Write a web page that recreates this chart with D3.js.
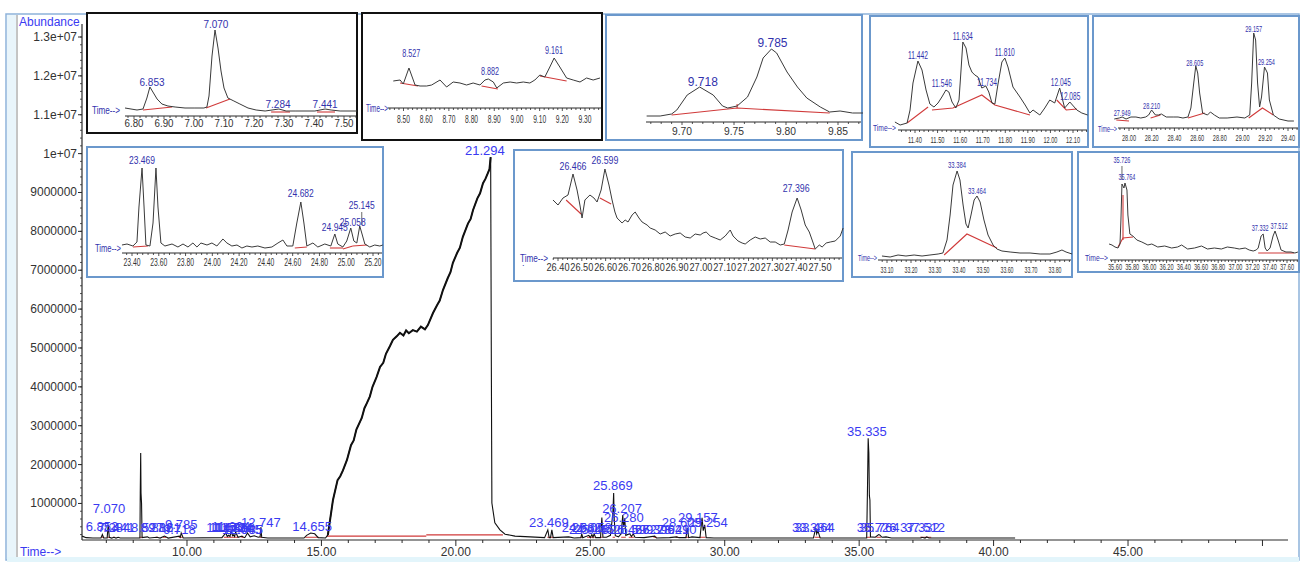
<!DOCTYPE html>
<html><head><meta charset="utf-8">
<script src="https://cdn.jsdelivr.net/npm/d3@7"></script>
<style>body{margin:0;background:#fff}svg{display:block}text{font-family:"Liberation Sans",Arial,sans-serif}</style>
</head><body><svg id="c" width="1304" height="562"></svg>
<script>
// ---------------- DATA ----------------
const mainXTicks = [10,15,20,25,30,35,40,45];
const mainYTicks = [1e6,2e6,3e6,4e6,5e6,6e6,7e6,8e6,9e6,1e7,1.1e7,1.2e7,1.3e7];
const mainYTickLabels = ["1000000","2000000","3000000","4000000","5000000","6000000","7000000","8000000","9000000","1e+07","1.1e+07","1.2e+07","1.3e+07"];
const mainTrace = [
[6.10,0.16e6],[6.25,0.12e6],[6.5,0.11e6],[6.80,0.11e6],[6.853,0.2e6],[6.90,0.11e6],[7.03,0.11e6],[7.070,0.45e6],[7.11,0.13e6],[7.20,0.11e6],[7.284,0.13e6],[7.36,0.11e6],[7.441,0.13e6],[7.52,0.11e6],[8.0,0.11e6],[8.25,0.11e6],[8.262,1.27e6],[8.278,2.3e6],[8.29,1.27e6],[8.31,1.0e6],[8.33,0.12e6],[8.527,0.14e6],[8.6,0.11e6],[8.882,0.13e6],[9.0,0.11e6],[9.161,0.16e6],[9.3,0.11e6],[9.718,0.16e6],[9.75,0.13e6],[9.785,0.24e6],[9.86,0.11e6],[11.3,0.12e6],[11.442,0.24e6],[11.5,0.15e6],[11.546,0.18e6],[11.6,0.15e6],[11.634,0.28e6],[11.7,0.17e6],[11.734,0.19e6],[11.77,0.15e6],[11.810,0.26e6],[11.9,0.13e6],[12.045,0.16e6],[12.085,0.14e6],[12.15,0.12e6],[12.25,0.24e6],[12.35,0.14e6],[12.5,0.17e6],[12.65,0.13e6],[12.72,0.14e6],[12.747,0.39e6],[12.78,0.13e6],[13.0,0.11e6],[14.35,0.11e6],[14.45,0.18e6],[14.6,0.24e6],[14.75,0.22e6],[14.88,0.12e6],[15.15,0.11e6],
[15.24,0.19e6],[15.43,1.09e6],[15.6,1.6e6],[15.7,1.7e6],[15.8,1.85e6],[15.95,2.12e6],[16.1,2.5e6],[16.2,2.62e6],[16.3,2.9e6],[16.5,3.2e6],[16.6,3.45e6],[16.69,3.58e6],[16.8,3.75e6],[16.9,4.0e6],[17.05,4.25e6],[17.18,4.51e6],[17.3,4.62e6],[17.4,4.85e6],[17.55,5.05e6],[17.66,5.21e6],[17.8,5.3e6],[17.92,5.39e6],[18.05,5.32e6],[18.15,5.45e6],[18.25,5.38e6],[18.4,5.46e6],[18.55,5.42e6],[18.7,5.55e6],[18.85,5.48e6],[18.96,5.59e6],[19.15,5.9e6],[19.3,6.1e6],[19.4,6.22e6],[19.52,6.49e6],[19.7,6.8e6],[19.8,6.95e6],[19.89,7.19e6],[20.05,7.45e6],[20.15,7.58e6],[20.26,7.86e6],[20.45,8.2e6],[20.55,8.32e6],[20.64,8.55e6],[20.8,8.85e6],[20.9,8.98e6],[21.01,9.24e6],[21.1,9.35e6],[21.19,9.5e6],[21.25,9.6e6],[21.294,9.91e6],
[21.32,4.5e6],[21.34,1.01e6],[21.45,0.5e6],[21.64,0.32e6],[21.83,0.21e6],[22.2,0.16e6],[22.76,0.14e6],[23.3,0.12e6],[23.42,0.32e6],[23.47,0.12e6],[23.52,0.12e6],[23.57,0.32e6],[23.62,0.12e6],[24.2,0.14e6],[24.4,0.11e6],[24.65,0.12e6],[24.682,0.22e6],[24.72,0.12e6],[24.945,0.18e6],[25.0,0.12e6],[25.058,0.2e6],[25.1,0.13e6],[25.145,0.22e6],[25.2,0.12e6],[25.38,0.12e6],[25.43,0.64e6],[25.47,0.13e6],[25.6,0.13e6],[25.75,0.18e6],[25.84,0.75e6],[25.869,1.27e6],[25.89,0.6e6],[25.93,0.17e6],[26.05,0.14e6],[26.15,0.22e6],[26.207,0.7e6],[26.24,0.4e6],[26.28,0.62e6],[26.32,0.18e6],[26.466,0.22e6],[26.53,0.15e6],[26.599,0.22e6],[26.66,0.13e6],[27.0,0.12e6],[27.396,0.16e6],[27.46,0.11e6],[27.949,0.12e6],[28.21,0.14e6],[28.3,0.12e6],[28.56,0.12e6],[28.605,0.37e6],[28.66,0.12e6],[28.78,0.14e6],[29.08,0.12e6],[29.157,0.63e6],[29.2,0.3e6],[29.254,0.45e6],[29.31,0.12e6],[29.6,0.11e6],[33.3,0.11e6],[33.384,0.37e6],[33.42,0.22e6],[33.464,0.3e6],[33.55,0.11e6],[35.28,0.11e6],[35.31,1.4e6],[35.335,2.68e6],[35.36,2.3e6],[35.38,1.2e6],[35.40,1.09e6],[35.42,0.14e6],[35.6,0.13e6],[35.726,0.2e6],[35.764,0.19e6],[35.85,0.13e6],[36.0,0.14e6],[36.2,0.11e6],[37.3,0.11e6],[37.332,0.13e6],[37.45,0.11e6],[37.512,0.14e6],[37.6,0.11e6],[40.8,0.11e6]
];
const mainHumpRange = [15.2, 21.3];
const mainBaselines = [[[15.2,0.16e6],[18.9,0.16e6]],[[18.9,0.19e6],[21.75,0.19e6]]];
const mainPeakBases = [[6.82,6.92],[7.03,7.12],[7.25,7.32],[8.24,8.34],[8.84,8.92],[9.10,9.22],[9.69,9.84],[11.37,11.6],[11.6,11.91],[12.02,12.12],[12.70,12.79],[14.40,14.90],[23.40,23.62],[24.64,24.72],[24.88,25.16],[25.40,25.46],[25.83,25.92],[26.15,26.32],[26.43,26.62],[27.35,27.48],[28.18,28.27],[28.52,28.67],[29.05,29.28],[33.34,33.56],[35.29,35.42],[35.64,35.81],[37.27,37.68]];
const mainPeakBaseLevel = 0.13e6;
const mainLabels = [
[6.84,0.42e6,"6.853"],[7.10,0.86e6,"7.070"],[7.284,0.37e6,"7.284"],[7.441,0.37e6,"7.441"],[8.527,0.37e6,"8.527"],[8.882,0.37e6,"8.882"],[9.161,0.37e6,"9.161"],[9.718,0.34e6,"9.718"],[9.785,0.47e6,"9.785"],
[11.442,0.37e6,"11.442"],[11.546,0.37e6,"11.546"],[11.634,0.42e6,"11.634"],[11.734,0.37e6,"11.734"],[11.810,0.37e6,"11.810"],[12.045,0.34e6,"12.045"],[12.085,0.34e6,"12.085"],[12.747,0.52e6,"12.747"],[14.655,0.42e6,"14.655"],
[21.08,10.09e6,"21.294"],[23.46,0.50e6,"23.469"],[24.682,0.37e6,"24.682"],[24.945,0.34e6,"24.945"],[25.058,0.37e6,"25.058"],[25.145,0.34e6,"25.145"],[25.84,1.45e6,"25.869"],[26.18,0.86e6,"26.207"],[26.25,0.65e6,"26.280"],
[26.466,0.34e6,"26.466"],[26.599,0.34e6,"26.599"],[27.396,0.34e6,"27.396"],[27.949,0.34e6,"27.949"],[28.210,0.34e6,"28.210"],[28.40,0.50e6,"28.605"],[29.0,0.65e6,"29.157"],[29.37,0.50e6,"29.254"],
[33.24,0.39e6,"33.384"],[33.35,0.39e6,"33.464"],[35.29,2.84e6,"35.335"],[35.65,0.37e6,"35.726"],[35.76,0.37e6,"35.764"],[37.26,0.37e6,"37.332"],[37.45,0.37e6,"37.512"]
];

// inset 1
const ins1Ticks = [6.8,6.9,7.0,7.1,7.2,7.3,7.4,7.5];
const ins1Trace = [[6.770,8],[6.790,7],[6.810,6],[6.830,7],[6.843,18],[6.853,29],[6.863,24],[6.877,17],[6.893,12],[6.913,10],[6.937,9],[6.970,8],[7.003,8],[7.033,8],[7.043,9],[7.050,20],[7.060,60],[7.070,86],[7.080,68],[7.090,45],[7.100,28],[7.113,18],[7.133,15],[7.153,12],[7.180,8],[7.207,6],[7.237,5],[7.260,6],[7.283,7],[7.307,5],[7.337,5],[7.370,5],[7.403,5],[7.420,6],[7.437,7],[7.457,6],[7.487,5],[7.520,5],[7.543,5]];
const ins1Base = [[[6.830,6],[6.927,9]],[[7.040,8],[7.120,17]],[[7.257,4],[7.320,4]],[[7.410,4],[7.470,4]]];
const ins1Labels = [[6.860,34,"6.853"],[7.073,92,"7.070"],[7.280,12,"7.284"],[7.437,12,"7.441"]];
// inset 2
const ins2Ticks = [8.5,8.6,8.7,8.8,8.9,9.0,9.1,9.2,9.3];
const ins2Trace = [[8.455,27],[8.485,28],[8.499,24],[8.524,40],[8.551,23],[8.573,22],[8.602,22],[8.624,23],[8.661,28],[8.690,21],[8.719,26],[8.749,25],[8.778,23],[8.807,25],[8.837,23],[8.859,28],[8.874,29],[8.896,26],[8.911,20],[8.940,25],[8.970,26],[8.999,25],[9.028,26],[9.057,25],[9.079,28],[9.101,33],[9.123,31],[9.145,41],[9.164,50],[9.189,41],[9.219,30],[9.248,28],[9.278,26],[9.307,30],[9.336,28],[9.366,30]];
const ins2Base = [[[8.485,25],[8.564,22]],[[8.844,22],[8.916,19]],[[9.101,32],[9.219,27]]];
const ins2Labels = [[8.534,55,"8.527"],[8.881,37,"8.882"],[9.163,58,"9.161"]];
// inset 3
const ins3Ticks = [9.70,9.75,9.80,9.85];
const ins3Trace = [[9.666,6],[9.679,6],[9.690,8],[9.695,12],[9.705,27],[9.717,35],[9.730,27],[9.739,16],[9.744,14],[9.753,16],[9.763,25],[9.772,45],[9.778,64],[9.786,73],[9.791,69],[9.801,50],[9.811,35],[9.820,24],[9.833,15],[9.842,10],[9.852,11],[9.864,9],[9.874,9]];
const ins3Base = [[[9.690,7],[9.753,14],[9.842,9]],[[9.753,14],[9.753,18]]];
const ins3Labels = [[9.720,40,"9.718"],[9.787,79,"9.785"]];
// inset 4
const ins4Ticks = [11.4,11.5,11.6,11.7,11.8,11.9,12.0,12.1];
const ins4Trace = [[11.311,8],[11.334,5],[11.365,7],[11.378,20],[11.391,47],[11.413,69],[11.431,60],[11.449,40],[11.466,26],[11.484,23],[11.502,27],[11.519,33],[11.537,40],[11.550,38],[11.564,28],[11.581,22],[11.595,30],[11.604,60],[11.612,88],[11.626,82],[11.639,65],[11.652,58],[11.665,55],[11.679,53],[11.696,42],[11.714,44],[11.727,38],[11.741,27],[11.754,26],[11.767,45],[11.785,68],[11.798,72],[11.812,63],[11.834,43],[11.865,33],[11.888,25],[11.909,17],[11.923,20],[11.953,15],[11.975,22],[11.997,30],[12.019,27],[12.041,42],[12.063,22],[12.086,28],[12.117,20],[12.139,17],[12.165,15]];
const ins4Base = [[[11.365,7],[11.458,23]],[[11.475,20],[11.568,22],[11.696,35],[11.754,25],[11.909,15]],[[12.028,30],[12.070,20],[12.117,21]]];
const ins4Labels = [[11.413,75,"11.442"],[11.519,47,"11.546"],[11.612,94,"11.634"],[11.719,48,"11.734"],[11.798,78,"11.810"],[12.046,48,"12.045"],[12.088,34,"12.085"]];
// inset 5
const ins5Ticks = [28.0,28.2,28.4,28.6,28.8,29.0,29.2,29.4];
const ins5Trace = [[27.870,9],[27.914,10],[27.940,11],[27.974,9],[28.017,11],[28.061,11],[28.104,10],[28.147,11],[28.173,13],[28.199,18],[28.233,13],[28.259,13],[28.285,14],[28.328,11],[28.389,11],[28.432,11],[28.475,10],[28.519,11],[28.545,20],[28.570,45],[28.588,62],[28.605,55],[28.622,35],[28.648,15],[28.691,13],[28.717,16],[28.752,13],[28.795,10],[28.864,10],[28.951,11],[29.020,10],[29.063,13],[29.080,45],[29.098,95],[29.115,88],[29.132,45],[29.150,21],[29.167,31],[29.193,61],[29.219,55],[29.236,28],[29.271,13],[29.322,9],[29.400,7],[29.452,7]];
const ins5Base = [[[27.888,8],[28.0,7]],[[28.190,10],[28.277,13]],[[28.519,10],[28.666,15]],[[29.054,10],[29.175,20],[29.271,13]]];
const ins5Labels = [[27.940,16,"27.949"],[28.199,23,"28.210"],[28.579,66,"28.605"],[29.098,100,"29.157"],[29.210,67,"29.254"]];
// inset 6
const ins6Ticks = [23.4,23.6,23.8,24.0,24.2,24.4,24.6,24.8,25.0,25.2];
const ins6Trace = [[23.325,8],[23.363,9],[23.407,7],[23.437,11],[23.452,46],[23.475,85],[23.490,46],[23.504,8],[23.534,7],[23.557,30],[23.579,85],[23.594,46],[23.616,10],[23.646,7],[23.699,9],[23.743,6],[23.781,9],[23.818,6],[23.855,10],[23.885,6],[23.915,10],[23.960,8],[23.997,10],[24.034,7],[24.079,14],[24.109,10],[24.146,7],[24.184,8],[24.221,5],[24.258,7],[24.296,6],[24.340,7],[24.393,5],[24.445,6],[24.490,10],[24.527,13],[24.557,7],[24.601,7],[24.631,30],[24.661,51],[24.684,30],[24.706,7],[24.751,10],[24.788,6],[24.840,9],[24.885,7],[24.915,19],[24.937,9],[24.975,6],[25.004,12],[25.034,25],[25.057,12],[25.079,10],[25.101,27],[25.116,20],[25.139,9],[25.176,6],[25.213,8],[25.251,7],[25.273,8]];
const ins6Base = [[[23.407,6],[23.519,7]],[[24.616,5],[24.706,6]],[[24.878,5],[24.975,5]],[[24.975,4],[25.049,7]],[[25.049,7],[25.154,8]]];
const ins6Labels = [[23.475,93,"23.469"],[24.661,60,"24.682"],[24.915,26,"24.945"],[25.049,31,"25.058"],[25.116,48,"25.145"]];
const ins6Leaders = [[25.116,41,28]];
// inset 7
const ins7Ticks = [26.4,26.5,26.6,26.7,26.8,26.9,27.0,27.1,27.2,27.3,27.4,27.5];
const ins7Trace = [[26.379,58],[26.400,53],[26.421,60],[26.442,63],[26.463,84],[26.480,68],[26.492,53],[26.501,40],[26.513,58],[26.534,63],[26.551,60],[26.564,56],[26.581,68],[26.597,89],[26.614,73],[26.627,58],[26.639,46],[26.648,40],[26.669,35],[26.682,38],[26.694,36],[26.711,43],[26.724,46],[26.740,40],[26.753,36],[26.774,33],[26.787,30],[26.808,28],[26.829,24],[26.850,26],[26.871,22],[26.892,24],[26.913,25],[26.934,21],[26.955,20],[26.976,24],[26.997,23],[27.009,25],[27.022,26],[27.039,22],[27.060,20],[27.081,18],[27.102,22],[27.123,28],[27.135,22],[27.156,17],[27.173,15],[27.186,14],[27.207,18],[27.228,21],[27.249,19],[27.270,20],[27.291,16],[27.312,16],[27.333,13],[27.350,14],[27.366,28],[27.383,46],[27.404,60],[27.421,48],[27.438,33],[27.455,26],[27.467,18],[27.480,9],[27.497,13],[27.509,11],[27.526,15],[27.543,16],[27.564,17],[27.585,22],[27.597,30]];
const ins7Base = [[[26.434,58],[26.497,44]],[[26.576,60],[26.623,54]],[[27.350,13],[27.480,9]]];
const ins7Labels = [[26.463,92,"26.466"],[26.597,98,"26.599"],[27.400,70,"27.396"]];
// inset 8
const ins8Ticks = [33.1,33.2,33.3,33.4,33.5,33.6,33.7,33.8];
const ins8Trace = [[33.079,4],[33.113,3],[33.146,5],[33.179,4],[33.213,5],[33.246,4],[33.279,5],[33.313,6],[33.333,7],[33.350,20],[33.363,45],[33.375,75],[33.392,89],[33.404,80],[33.417,55],[33.429,36],[33.438,32],[33.450,45],[33.463,60],[33.475,64],[33.488,58],[33.504,40],[33.521,25],[33.542,15],[33.558,11],[33.579,9],[33.613,8],[33.654,7],[33.696,7],[33.738,6],[33.779,6],[33.808,8],[33.829,10],[33.846,8],[33.871,6]];
const ins8Base = [[[33.338,5],[33.433,26],[33.558,12]]];
const ins8Labels = [[33.392,96,"33.384"],[33.475,70,"33.464"]];
// inset 9
const ins9Ticks = [35.6,35.8,36.0,36.2,36.4,36.6,36.8,37.0,37.2,37.4,37.6];
const ins9Trace = [[35.531,16],[35.565,15],[35.600,13],[35.635,12],[35.658,16],[35.669,40],[35.681,76],[35.704,72],[35.716,77],[35.739,70],[35.750,45],[35.773,26],[35.808,24],[35.854,20],[35.912,18],[35.982,15],[36.028,16],[36.097,13],[36.178,14],[36.259,12],[36.328,13],[36.375,15],[36.444,11],[36.525,12],[36.606,14],[36.675,11],[36.756,12],[36.837,11],[36.906,13],[36.987,12],[37.045,11],[37.114,12],[37.161,10],[37.207,9],[37.242,10],[37.265,12],[37.299,24],[37.323,26],[37.346,12],[37.369,9],[37.403,12],[37.438,24],[37.461,29],[37.496,20],[37.531,10],[37.588,8],[37.646,8],[37.692,7],[37.727,8]];
const ins9Base = [[[35.635,13],[35.693,22],[35.809,23]],[[35.693,20],[35.693,65]],[[37.265,7],[37.681,7]]];
const ins9Labels = [[35.681,100,"35.726"],[35.739,83,"35.764"],[37.288,32,"37.332"],[37.508,34,"37.512"]];
const ins9Leaders = [[35.681,94,80]];

// ---------------- DRAW ----------------
const svg = d3.select("#c");
const BLUE_MAIN = "#3a3af2", BLUE_IN = "#3232ad", RED = "#d03a3a", INK = "#2a2a2a";

// frame
svg.append("rect").attr("x",6).attr("y",14).attr("width",1293).attr("height",546).attr("fill","#fff").attr("stroke","#8db2da").attr("stroke-width",1.5);
svg.append("rect").attr("x",7).attr("y",15).attr("width",9).attr("height",544).attr("fill","#e9f5fb");
svg.append("line").attr("x1",17).attr("x2",17).attr("y1",15).attr("y2",559).attr("stroke","#8a8a8a").attr("stroke-width",1);
svg.append("rect").attr("x",7).attr("y",557).attr("width",1292).attr("height",5).attr("fill","#e3f5fb");

const x = d3.scaleLinear().domain([6.095, 50.95]).range([82, 1288]);
const y = d3.scaleLinear().domain([0.06e6, 1.3e7]).range([540, 37]);

// axes
svg.append("line").attr("x1",82).attr("x2",1288).attr("y1",540).attr("y2",540).attr("stroke",INK).attr("stroke-width",1.2);
svg.append("line").attr("x1",82).attr("x2",82).attr("y1",24).attr("y2",540).attr("stroke",INK).attr("stroke-width",1.2);
d3.range(7,51).forEach(m=>{
  const big = m%5===0;
  svg.append("line").attr("x1",x(m)).attr("x2",x(m)).attr("y1",540).attr("y2",540+(big?6:3)).attr("stroke",INK).attr("stroke-width",1);
});
svg.selectAll("text.xt").data(mainXTicks).enter().append("text").attr("class","xt")
  .attr("x",d=>x(d)).attr("y",552).attr("text-anchor","middle").attr("dominant-baseline","central")
  .attr("font-size",12).attr("fill","#333").text(d=>d3.format(".2f")(d));
d3.range(2e5,1.3e7+1,2e5).forEach(v=>{
  svg.append("line").attr("x1",82).attr("x2",80).attr("y1",y(v)).attr("y2",y(v)).attr("stroke",INK).attr("stroke-width",0.8);
});
mainYTicks.forEach((v,i)=>{
  svg.append("line").attr("x1",82).attr("x2",78).attr("y1",y(v)).attr("y2",y(v)).attr("stroke",INK);
  svg.append("text").attr("x",77).attr("y",y(v)).attr("text-anchor","end").attr("dominant-baseline","central")
    .attr("font-size",12).attr("fill","#333").text(mainYTickLabels[i]);
});
svg.append("text").attr("x",19).attr("y",22).attr("dominant-baseline","central").attr("font-size",12).attr("fill",BLUE_MAIN).text("Abundance");
svg.append("text").attr("x",20).attr("y",552).attr("dominant-baseline","central").attr("font-size",12).attr("fill",BLUE_MAIN).text("Time-->");

const line = d3.line().x(d=>x(d[0])).y(d=>y(d[1]));
mainBaselines.forEach(b=>svg.append("path").attr("d",line(b)).attr("fill","none").attr("stroke",RED).attr("stroke-width",1.2));
mainPeakBases.forEach(b=>svg.append("path").attr("d",line([[b[0],mainPeakBaseLevel],[b[1],mainPeakBaseLevel]])).attr("fill","none").attr("stroke",RED).attr("stroke-width",1));
svg.append("path").attr("d",line(mainTrace)).attr("fill","none").attr("stroke","#111").attr("stroke-width",1.1);
svg.append("path").attr("d",line(mainTrace.filter(d=>d[0]>=mainHumpRange[0]&&d[0]<=mainHumpRange[1])))
  .attr("fill","none").attr("stroke","#111").attr("stroke-width",2);
svg.selectAll("text.ml").data(mainLabels).enter().append("text").attr("class","ml")
  .attr("x",d=>x(d[0])).attr("y",d=>y(d[1])).attr("text-anchor","middle").attr("dominant-baseline","central")
  .attr("font-size",13).attr("fill",BLUE_MAIN).text(d=>d[2]);

// insets
const insets = [
 {trace:ins1Trace,base:ins1Base,labels:ins1Labels,ticks:ins1Ticks,box:[87,13,270,120],border:"#111",ref:[6.80,7.50],px:[134,344],axisY:116,ax:[125,356],tickY:123,tFs:10,tLen:19,lFs:11,lLen:25,time:[92,110,28,10]},
 {trace:ins2Trace,base:ins2Base,labels:ins2Labels,ticks:ins2Ticks,box:[362,13,240,127],border:"#111",ref:[8.50,9.30],px:[403.5,585],axisY:108,ax:[388,601],tickY:119,tFs:10.5,tLen:13,lFs:11,lLen:18,time:[366,108,22,10]},
 {trace:ins3Trace,base:ins3Base,labels:ins3Labels,ticks:ins3Ticks,box:[606,15,256,125],border:"#6b98cc",ref:[9.70,9.85],px:[682,838],axisY:122,ax:[646,861],tickY:131,tFs:11,tLen:20,lFs:12.5,lLen:30,time:null},
 {trace:ins4Trace,base:ins4Base,labels:ins4Labels,ticks:ins4Ticks,box:[870,16,218,131],border:"#6b98cc",ref:[11.40,12.10],px:[915,1073],axisY:130,ax:[898,1087],tickY:139,tFs:9.5,tLen:14,lFs:10,lLen:20,time:[873,128,23,9]},
 {trace:ins5Trace,base:ins5Base,labels:ins5Labels,ticks:ins5Ticks,box:[1093,16,206,131],border:"#6b98cc",ref:[28.00,29.40],px:[1129,1288],axisY:128,ax:[1118,1298],tickY:137,tFs:9.5,tLen:14,lFs:9.5,lLen:17,time:[1098,129,19,9]},
 {trace:ins6Trace,base:ins6Base,labels:ins6Labels,ticks:ins6Ticks,box:[87,147,296,130],border:"#6b98cc",ref:[23.40,25.20],px:[132,373],axisY:253,ax:[122,382],tickY:262,tFs:10,tLen:17,lFs:11,lLen:26,time:[95,248,26,10],leaders:ins6Leaders},
 {trace:ins7Trace,base:ins7Base,labels:ins7Labels,ticks:ins7Ticks,box:[514,150,329,131],border:"#6b98cc",ref:[26.40,27.50],px:[558,820],axisY:258,ax:[553,842],tickY:267,tFs:10.5,tLen:23,lFs:11,lLen:27,time:[520,258,28,10]},
 {trace:ins8Trace,base:ins8Base,labels:ins8Labels,ticks:ins8Ticks,box:[852,152,220,125],border:"#6b98cc",ref:[33.10,33.80],px:[887,1055],axisY:260,ax:[878,1071],tickY:269,tFs:9.5,tLen:13,lFs:9.5,lLen:18,time:[858,258,19,9]},
 {trace:ins9Trace,base:ins9Base,labels:ins9Labels,ticks:ins9Ticks,box:[1078,152,221,120],border:"#6b98cc",ref:[35.60,37.60],px:[1115,1287],axisY:260,ax:[1110,1298],tickY:267,tFs:8.5,tLen:14,lFs:9,lLen:17,time:[1085,258,23,9],leaders:ins9Leaders}
];

insets.forEach(c=>{
  const g = svg.append("g");
  const [bx,by,bw,bh] = c.box;
  g.append("rect").attr("x",bx).attr("y",by).attr("width",bw).attr("height",bh)
    .attr("fill","#fff").attr("stroke",c.border).attr("stroke-width",2);
  const xs = d3.scaleLinear().domain(c.ref).range(c.px);
  const ys = d3.scaleLinear().domain([0,100]).range([c.axisY, c.axisY-100]);
  const ln = d3.line().x(d=>xs(d[0])).y(d=>ys(d[1]));
  g.append("line").attr("x1",c.ax[0]).attr("x2",c.ax[1]).attr("y1",c.axisY).attr("y2",c.axisY).attr("stroke",INK).attr("stroke-width",1);
  const step = c.ticks[1]-c.ticks[0], ms = step/5;
  const t0 = xs.invert(c.ax[0]), t1 = xs.invert(c.ax[1]);
  const n0 = Math.ceil((t0-c.ticks[0])/ms - 1e-6), n1 = Math.floor((t1-c.ticks[0])/ms + 1e-6);
  for(let k=n0;k<=n1;k++){
    const t = c.ticks[0]+k*ms, big = (((k%5)+5)%5)===0;
    g.append("line").attr("x1",xs(t)).attr("x2",xs(t)).attr("y1",c.axisY).attr("y2",c.axisY+(big?3:2)).attr("stroke",INK).attr("stroke-width",0.8);
  }
  c.ticks.forEach(t=>{
    g.append("text").attr("x",xs(t)).attr("y",c.tickY).attr("text-anchor","middle").attr("dominant-baseline","central")
      .attr("font-size",c.tFs).attr("fill","#333").attr("textLength",c.tLen).attr("lengthAdjust","spacingAndGlyphs")
      .text(d3.format(".2f")(t));
  });
  if(c.time){
    g.append("text").attr("x",c.time[0]).attr("y",c.time[1]).attr("dominant-baseline","central")
      .attr("font-size",c.time[3]).attr("fill",BLUE_IN).attr("textLength",c.time[2]).attr("lengthAdjust","spacingAndGlyphs").text("Time-->");
  }
  c.base.forEach(b=>g.append("path").attr("d",ln(b)).attr("fill","none").attr("stroke",RED).attr("stroke-width",1.1));
  g.append("path").attr("d",ln(c.trace)).attr("fill","none").attr("stroke","#3a3a3a").attr("stroke-width",1);
  (c.leaders||[]).forEach(l=>g.append("line").attr("x1",xs(l[0])).attr("x2",xs(l[0])).attr("y1",ys(l[1])).attr("y2",ys(l[2])).attr("stroke","#444").attr("stroke-width",0.8));
  c.labels.forEach(l=>{
    g.append("text").attr("x",xs(l[0])).attr("y",ys(l[1])).attr("text-anchor","middle").attr("dominant-baseline","central")
      .attr("font-size",c.lFs).attr("fill",BLUE_IN).attr("textLength",c.lLen).attr("lengthAdjust","spacingAndGlyphs").text(l[2]);
  });
});
svg.append("text").attr("x",522).attr("y",266).attr("font-size",9).attr("fill",BLUE_IN).text(".");
</script></body></html>
